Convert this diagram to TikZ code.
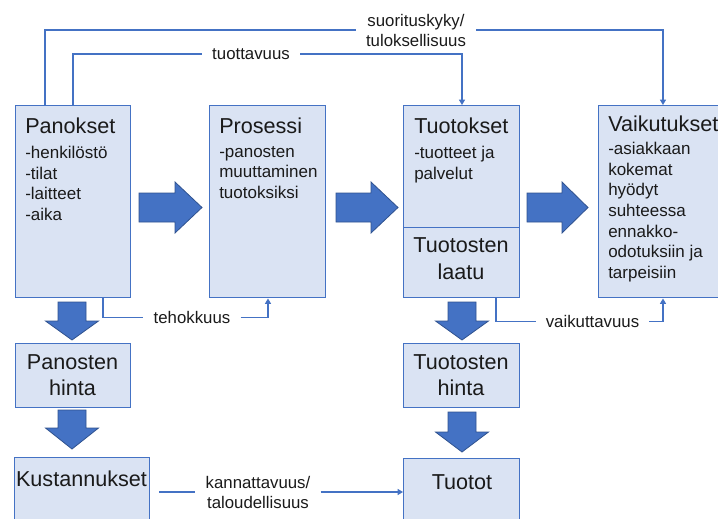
\documentclass[tikz,border=0pt]{standalone}
\usepackage{fontspec}
\setmainfont{Liberation Sans}
\usetikzlibrary{arrows.meta}
\definecolor{boxfill}{HTML}{DAE3F3}
\definecolor{boxline}{HTML}{4472C4}
\definecolor{arrowfill}{HTML}{4472C4}
\definecolor{arrowline}{HTML}{2F528F}
\definecolor{ink}{HTML}{1A1A1A}
\tikzset{
  box/.style={draw=boxline, fill=boxfill, line width=1.1pt, inner sep=0pt, anchor=north west},
  title/.style={font=\fontsize{16.2}{20}\selectfont, text=ink, inner sep=0pt},
  body/.style={font=\fontsize{12.75}{15.5}\selectfont, text=ink, inner sep=0pt, align=left, anchor=north west},
  lbl/.style={font=\fontsize{12.6}{15}\selectfont, text=ink, inner xsep=7.5pt, inner ysep=0pt, align=center},
  conn/.style={draw=boxline, line width=0.9pt},
  tip/.style={-{Triangle[width=4.5pt,length=4pt]}},
  block/.style={fill=arrowfill, draw=arrowline, line width=0.6pt, line join=miter},
}
% block arrow pointing right: shaft start, head start, tip, centre line
\newcommand{\rightblock}[4]{%
  \path[block] (#1,#4-14.5) -- (#2,#4-14.5) -- (#2,#4-25.5) -- (#3,#4)
    -- (#2,#4+25.5) -- (#2,#4+14.5) -- (#1,#4+14.5) -- cycle;}
% block arrow pointing down: centre line, shaft start, head start, tip
\newcommand{\downblock}[4]{%
  \path[block] (#1-14,#2) -- (#1+14,#2) -- (#1+14,#3) -- (#1+26.5,#3) -- (#1,#4)
    -- (#1-26.5,#3) -- (#1-14,#3) -- cycle;}
\begin{document}
\begin{tikzpicture}[x=0.75pt, y=-0.75pt]
\useasboundingbox (0,0) rectangle (718,518);
\clip (0,0) rectangle (718,518);

% boxes
\node[box, minimum width=86.25pt, minimum height=144pt] (pan) at (15,105) {};
\node[box, minimum width=87pt, minimum height=144pt] (pro) at (209,105) {};
\node[box, minimum width=87pt, minimum height=91.5pt] (tuo) at (403,105) {};
\node[box, minimum width=87pt, minimum height=52.5pt] (laa) at (403,227) {};
\node[box, minimum width=97.5pt, minimum height=144pt] (vai) at (598,105) {};
\node[box, minimum width=86.25pt, minimum height=48pt] (ph) at (15,343) {};
\node[box, minimum width=101.25pt, minimum height=60pt] (kus) at (14,457) {};
\node[box, minimum width=87pt, minimum height=48pt] (th) at (403,343) {};
\node[box, minimum width=87pt, minimum height=60pt] (tt) at (403,458) {};

% box texts
\node[title, anchor=base west] (panT) at (25,133) {Panokset};
\node[body] (panB) at (25,146) {-henkilöstö\\-tilat\\-laitteet\\-aika};
\node[title, anchor=base west] (proT) at (219,133) {Prosessi};
\node[body] (proB) at (219,146) {-panosten\\muuttaminen\\tuotoksiksi};
\node[title, anchor=base west] (tuoT) at (414,133) {Tuotokset};
\node[body] (tuoB) at (414,146) {-tuotteet ja\\palvelut};
\node[title, anchor=base west] (vaiT) at (608,131) {Vaikutukset};
\node[body] (vaiB) at (608,142) {-asiakkaan\\kokemat\\hyödyt\\suhteessa\\ennakko-\\odotuksiin ja\\tarpeisiin};
\node[title, align=center, anchor=north] (laaT) at (461,237.5) {Tuotosten\\laatu};
\node[title, align=center, anchor=north] (phT) at (72.5,354) {Panosten\\hinta};
\node[title, align=center, anchor=north] (thT) at (461,354) {Tuotosten\\hinta};
\node[title, anchor=base] (kusT) at (81.5,486) {Kustannukset};
\node[title, anchor=base] (ttT) at (462,489.5) {Tuotot};

% block arrows
\rightblock{139}{175}{202}{207.5}
\rightblock{336}{371}{398}{207.5}
\rightblock{527}{562}{588}{207.5}
\downblock{72}{302}{321}{340}
\downblock{72}{410}{428}{449}
\downblock{462}{302}{321}{340}
\downblock{462}{412}{432}{452}

% measure labels
\node[lbl] (suo) at (416,30) {suorituskyky/\\tuloksellisuus};
\node[lbl] (tuot) at (251,54) {tuottavuus};
\node[lbl] (teh) at (192,317.5) {tehokkuus};
\node[lbl] (vaik) at (592.5,321.5) {vaikuttavuus};
\node[lbl] (kan) at (258,492) {kannattavuus/\\taloudellisuus};

% measure connectors
\coordinate (c1) at (45,0);
\coordinate (c2) at (73,0);
\coordinate (c3) at (663,0);
\coordinate (c4) at (462,0);
\coordinate (c5) at (103,0);
\coordinate (c6) at (268,0);
\coordinate (c7) at (496,0);
\draw[conn] (pan.north -| c1) |- (suo.west);
\draw[conn, tip] (suo.east) -| (vai.north -| c3);
\draw[conn] (pan.north -| c2) |- (tuot.west);
\draw[conn, tip] (tuot.east) -| (tuo.north -| c4);
\draw[conn] (pan.south -| c5) |- (teh.west);
\draw[conn, tip] (teh.east) -| (pro.south -| c6);
\draw[conn] (laa.south -| c7) |- (vaik.west);
\draw[conn, tip] (vaik.east) -| (vai.south -| c3);
\draw[conn, shorten <=6.75pt] (kus.east |- kan.west) -- (kan.west);
\draw[conn, tip] (kan.east) -- (tt.west |- kan.east);
\end{tikzpicture}
\end{document}
